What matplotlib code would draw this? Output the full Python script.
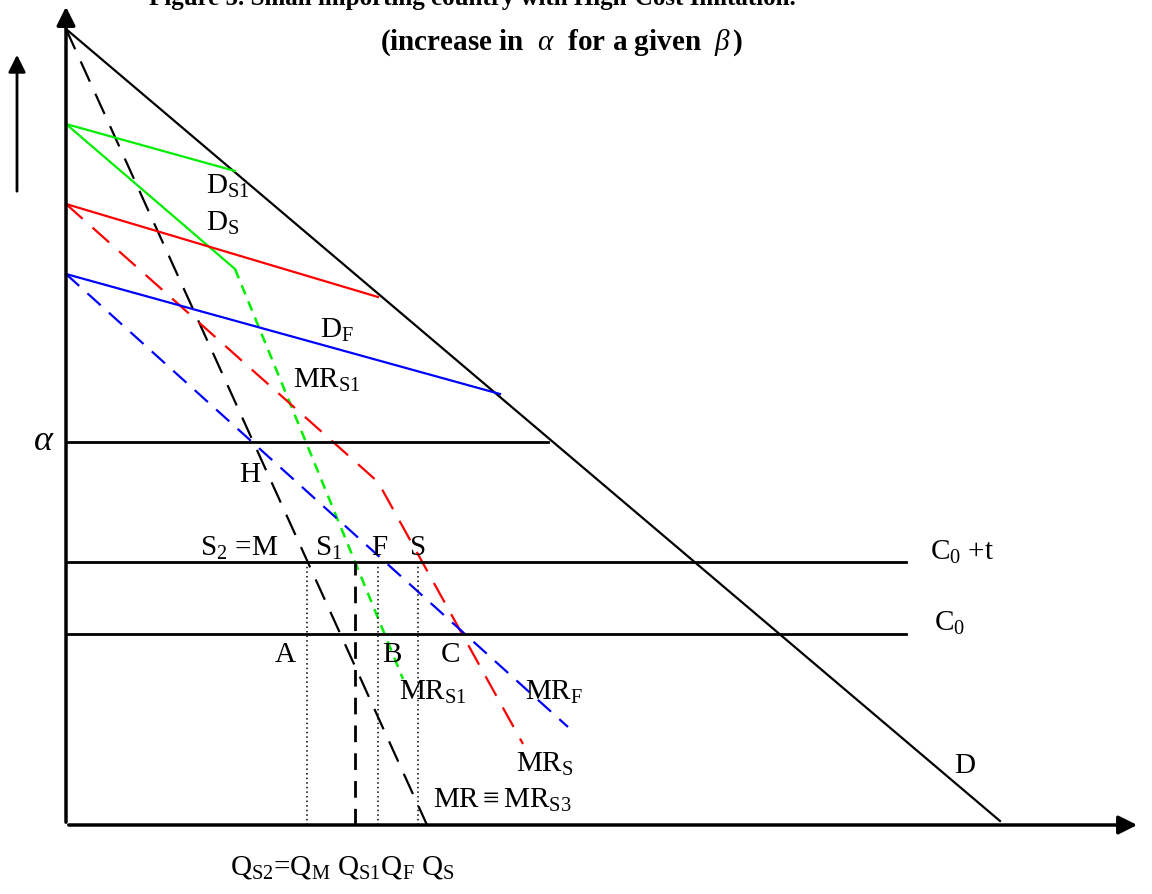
import matplotlib.pyplot as plt

plt.rcParams['font.family'] = ['Liberation Serif', 'DejaVu Serif']
plt.rcParams['mathtext.fontset'] = 'custom'
plt.rcParams['mathtext.rm'] = 'Liberation Serif'
plt.rcParams['mathtext.it'] = 'Liberation Serif:italic'

# curves as (Q, P) vertices
d_q, d_p = [0, 934], [796, 4]                 # market demand D
mr_q, mr_p = [0, 361], [796, 0]               # MR = MR_S3
ds1_q, ds1_p = [0, 169], [701, 654]           # D_S1
ds_q, ds_p = [0, 169], [701, 556]             # D_S (kinked part)
mrs1_q, mrs1_p = [169, 337], [556, 146]       # MR_S1
dsr_q, dsr_p = [0, 312], [621, 528]           # D_S
mrs_q, mrs_p = [0, 312, 457], [621, 343, 81]  # MR_S
df_q, df_p = [0, 434], [551, 431]             # D_F
mrf_q, mrf_p = [0, 502], [551, 98]            # MR_F

alpha_p, alpha_end = 383, 482
c0t_p, c0_p, c_end = 263, 191, 840
q_m, q_s1, q_f, q_s = 241, 289, 312, 352

fig = plt.figure(figsize=(11.52, 8.95), dpi=100)
ax = fig.add_axes([0, 0, 1, 1])
ax.set_xlim(-66, 1086)
ax.set_ylim(-69, 826)
ax.axis('off')

# axes with arrow heads
ax.annotate('', xy=(0, 821), xytext=(0, 0),
            arrowprops=dict(arrowstyle='-|>', lw=2.5, color='black', mutation_scale=28))
ax.annotate('', xy=(1074, 0), xytext=(0, 0),
            arrowprops=dict(arrowstyle='-|>', lw=2.5, color='black', mutation_scale=28))
ax.annotate('', xy=(-49, 773), xytext=(-49, 631),
            arrowprops=dict(arrowstyle='-|>', lw=2, color='black', mutation_scale=26))

ax.plot(d_q, d_p, color='black', lw=1.6)
ax.plot(mr_q, mr_p, color='black', lw=1.6, dashes=(10, 6))

ax.plot(ds1_q, ds1_p, color='#00ee00', lw=1.6)
ax.plot(ds_q, ds_p, color='#00ee00', lw=1.6)
ax.plot(mrs1_q, mrs1_p, color='#00ee00', lw=1.8, dashes=(4, 3))

ax.plot(dsr_q, dsr_p, color='red', lw=1.6)
ax.plot(mrs_q, mrs_p, color='red', lw=1.6, dashes=(10, 6))

ax.plot(df_q, df_p, color='blue', lw=1.6)
ax.plot(mrf_q, mrf_p, color='blue', lw=1.6, dashes=(8, 5))

ax.plot([0, alpha_end], [alpha_p, alpha_p], color='black', lw=2)
ax.plot([0, c_end], [c0t_p, c0t_p], color='black', lw=2)
ax.plot([0, c_end], [c0_p, c0_p], color='black', lw=2)

for q in (q_m, q_f, q_s):
    ax.plot([q, q], [0, c0t_p], color='black', lw=1.1, ls=(0, (1, 2)))
ax.plot([q_s1, q_s1], [0, c0t_p], color='black', lw=2, dashes=(6, 4))

fs = 21
def lab(x, y, s, **kw):
    ax.text(x, y, s, fontsize=kw.pop('size', fs), ha=kw.pop('ha', 'left'),
            va=kw.pop('va', 'center'), **kw)

lab(140, 640, r'$\mathregular{D_{S1}}$')
lab(140, 603, r'$\mathregular{D_S}$')
lab(254, 496, r'$\mathregular{D_F}$')
lab(227, 446, r'$\mathregular{MR_{S1}}$')
lab(-22, alpha_p + 2, r'$\alpha$', size=26, ha='center')
lab(184, 351, 'H', ha='center')
lab(134, 278, r'$\mathregular{S_2}$ =M')
lab(249, 278, r'$\mathregular{S_1}$')
lab(313, 278, 'F', ha='center')
lab(352, 278, 'S', ha='center')
lab(864, 274, r'$\mathregular{C_0}$ +t')
lab(868, 203, r'$\mathregular{C_0}$')
lab(219, 171, 'A', ha='center')
lab(326, 171, 'B', ha='center')
lab(384, 171, 'C', ha='center')
lab(333, 134, r'$\mathregular{MR_{S1}}$')
lab(459, 134, r'$\mathregular{MR_F}$')
lab(450, 62, r'$\mathregular{MR_S}$')
lab(367, 26, r'MR$\equiv$' + r'$\mathregular{MR_{S3}}$')
lab(888, 60, 'D')
lab(164, -42, r'$\mathregular{Q_{S2}}$=$\mathregular{Q_M}$ $\mathregular{Q_{S1}Q_F}$ $\mathregular{Q_S}$')

# title, first line runs off the top edge
ax.text(406, 828, 'Figure 5. Small importing country with High-Cost Imitation.',
        fontsize=18, fontweight='bold', ha='center', va='center')
ax.text(496, 783, r'(increase in  $\alpha$  for a given  $\beta\,$)',
        fontsize=21, fontweight='bold', ha='center', va='center')

fig.savefig('out.png', dpi=100)
